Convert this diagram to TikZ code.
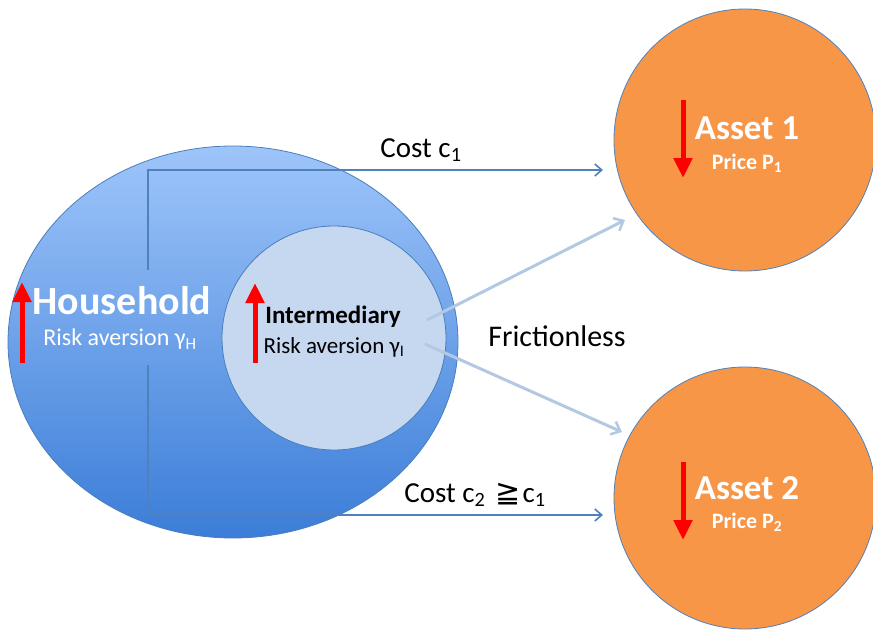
\documentclass[tikz,border=0pt]{standalone}
\usepackage{fontspec}
\setmainfont{Carlito}
\newfontfamily\symfont{DejaVu Sans}
\usetikzlibrary{arrows.meta,shadows}
\definecolor{hhtop}{HTML}{9EC5FA}
\definecolor{hhbot}{HTML}{3B7DD8}
\definecolor{hhline}{HTML}{4A7EBB}
\definecolor{imfill}{HTML}{C6D8F0}
\definecolor{orangefill}{HTML}{F79646}
\definecolor{costline}{HTML}{4F81BD}
\definecolor{frline}{HTML}{B3C9E3}
\definecolor{redarrow}{HTML}{FF0000}
\tikzset{
  assetshape/.style={circle, draw=costline, line width=0.8pt, fill=orangefill, minimum size=262pt, inner sep=0pt},
  imshape/.style={circle, draw=hhline, line width=0.8pt, fill=imfill, minimum size=224pt, inner sep=0pt},
  costarrow/.style={draw=costline, line width=2pt, -{Straight Barb[length=7pt,width=12pt,line width=1.6pt]}},
  frarrow/.style={draw=frline, line width=3pt, -{Straight Barb[length=8pt,width=14pt,line width=2.5pt]}},
  redup/.style={draw=redarrow, line width=5pt, -{Triangle[width=18pt,length=20pt]}},
  lbl/.style={inner sep=0pt, align=center},
}
\begin{document}
\begin{tikzpicture}[x=1pt,y=-1pt]
\useasboundingbox (0,0) rectangle (873,632);
% household ellipse
\shade[top color=hhtop, bottom color=hhbot, draw=hhline, line width=0.8pt] (233,342) ellipse [x radius=225, y radius=196];
\coordinate (hh) at (233,342);
% cost path lines
\coordinate (c1s) at (148,270);
\coordinate (c1c) at (148,170);
\coordinate (c1e) at (603,170);
\coordinate (c2s) at (148,365);
\coordinate (c2c) at (148,515);
\coordinate (c2e) at (603,515);
\draw[costarrow] (c1s) -- (c1c) -- (c1e);
\draw[costarrow] (c2s) -- (c2c) -- (c2e);
% intermediary
\node[imshape] (im) at (334,338) {};
% assets
\node[assetshape] (a1) at (745,140) {};
\node[assetshape] (a2) at (745,498) {};
% frictionless arrows
\coordinate (f1s) at (427,320);
\coordinate (f1e) at (625,220);
\coordinate (f2s) at (425,344);
\coordinate (f2e) at (622,432);
\draw[frarrow] (f1s) -- (f1e);
\draw[frarrow] (f2s) -- (f2e);
% red arrows
\coordinate (r1b) at (22,363);
\coordinate (r1t) at (22,282);
\draw[redup] (r1b) -- (r1t);
\coordinate (r2b) at (255,363);
\coordinate (r2t) at (255,283);
\draw[redup] (r2b) -- (r2t);
\coordinate (r3t) at (683,100);
\coordinate (r3b) at (683,178);
\draw[redup] (r3t) -- (r3b);
\coordinate (r4t) at (683,462);
\coordinate (r4b) at (683,540);
\draw[redup] (r4t) -- (r4b);
% texts
\node[lbl, text=white, font=\fontsize{40}{44}\selectfont\bfseries] (hht) at (122,301) {Household};
\node[lbl, text=white, font=\fontsize{24}{28}\selectfont] (hhr) at (120,339) {Risk aversion γ\textsubscript{H}};
\node[lbl, font=\fontsize{25}{29}\selectfont\bfseries] (imt) at (333,317) {Intermediary};
\node[lbl, font=\fontsize{23}{27}\selectfont] (imr) at (334,347) {Risk aversion γ\textsubscript{I}};
\node[lbl, font=\fontsize{29}{34}\selectfont] (cost1) at (421,150) {Cost c\textsubscript{1}};
\node[lbl, font=\fontsize{29}{34}\selectfont] (cost2) at (475,495) {Cost c\textsubscript{2}\hspace{10pt}{\symfont\fontsize{30}{34}\selectfont ≧}\hspace{2pt}c\textsubscript{1}};
\node[lbl, font=\fontsize{30}{35}\selectfont] (fr) at (557,336) {Frictionless};
\node[lbl, text=white, font=\fontsize{35}{40}\selectfont\bfseries] (a1t) at (747,128) {Asset 1};
\node[lbl, text=white, font=\fontsize{22}{26}\selectfont\bfseries] (a1p) at (747,163) {Price P\textsubscript{1}};
\node[lbl, text=white, font=\fontsize{35}{40}\selectfont\bfseries] (a2t) at (747,488) {Asset 2};
\node[lbl, text=white, font=\fontsize{22}{26}\selectfont\bfseries] (a2p) at (747,522) {Price P\textsubscript{2}};
\end{tikzpicture}
\end{document}
